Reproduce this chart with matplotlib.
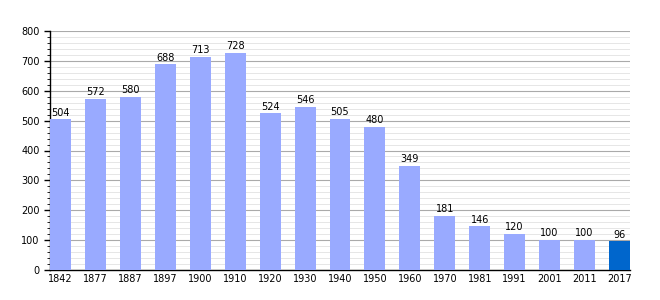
import matplotlib
matplotlib.use("Agg")
from matplotlib import pyplot as plt
from matplotlib.ticker import MultipleLocator

years = ["1842", "1877", "1887", "1897", "1900", "1910", "1920", "1930", "1940",
         "1950", "1960", "1970", "1981", "1991", "2001", "2011", "2017"]
population = [504, 572, 580, 688, 713, 728, 524, 546, 505, 480, 349, 181, 146,
              120, 100, 100, 96]

colors = ["#99aaff"] * (len(years) - 1) + ["#0066cc"]

fig = plt.figure(figsize=(6.6, 3), dpi=100)
ax = fig.add_axes([50 / 660, 30 / 300, 580 / 660, 239 / 300])

x = list(range(len(years)))
w = 0.6
ax.bar(x, population, width=w, color=colors, zorder=3)
for i, v in enumerate(population):
    ax.text(i, v + 6, str(v), ha="center", va="bottom", fontsize=7, zorder=4)

ax.set_xlim(-w / 2, len(years) - 1 + w / 2)
ax.set_ylim(0, 800)
ax.set_xticks(x)
ax.set_xticklabels(years, fontsize=7)
ax.yaxis.set_major_locator(MultipleLocator(100))
ax.yaxis.set_minor_locator(MultipleLocator(20))
ax.tick_params(axis="y", labelsize=7, length=4, width=1)
ax.tick_params(axis="y", which="minor", length=2)
ax.tick_params(axis="x", length=0, pad=3)
ax.grid(axis="y", which="major", color="#aaaaaa", linewidth=0.8, zorder=0)
ax.grid(axis="y", which="minor", color="#e2e2e2", linewidth=0.6, zorder=0)

for s in ["top", "right"]:
    ax.spines[s].set_visible(False)
ax.spines["left"].set_linewidth(1)
ax.spines["bottom"].set_linewidth(1)

fig.savefig("out.png", dpi=100)
